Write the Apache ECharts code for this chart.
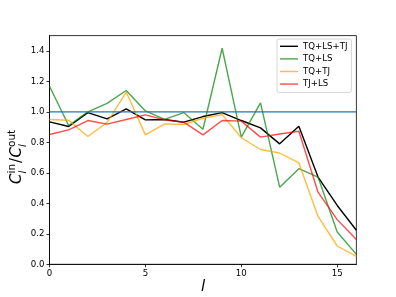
<!DOCTYPE html>
<html>
<head>
<meta charset="utf-8">
<script src="https://cdn.jsdelivr.net/npm/echarts@6/dist/echarts.min.js"></script>
<style>html,body{margin:0;padding:0;background:#fff;}#c{width:396px;height:297px;}</style>
</head>
<body>
<div id="c"></div>
<script>
const ells = [0,1,2,3,4,5,6,7,8,9,10,11,12,13,14,15,16];
const tqlstj = [0.934,0.904,0.995,0.954,1.02,0.947,0.95,0.932,0.969,0.995,0.943,0.895,0.79,0.906,0.572,0.386,0.223];
const tqls   = [1.168,0.91,1.0,1.056,1.14,1.006,0.95,0.995,0.886,1.417,0.834,1.059,0.506,0.627,0.572,0.212,0.065];
const tqtj   = [0.95,0.945,0.838,0.93,1.13,0.849,0.921,0.917,0.958,0.982,0.83,0.753,0.73,0.666,0.314,0.12,0.052];
const tjls   = [0.851,0.882,0.943,0.919,0.95,0.98,0.947,0.932,0.849,0.943,0.939,0.834,0.855,0.873,0.473,0.293,0.162];
const refX = [0,16];
const refY = [1,1];
const seriesNames = ['TQ+LS+TJ','TQ+LS','TQ+TJ','TJ+LS'];
const xTicks = [0,5,10,15];
const yTicks = [0,0.2,0.4,0.6,0.8,1.0,1.2,1.4];

const colors = ['#000000','rgba(0,128,0,0.7)','rgba(255,165,0,0.75)','rgba(255,0,0,0.7)'];
const values = [tqlstj,tqls,tqtj,tjls];
const font = 'DejaVu Sans';
const chart = echarts.init(document.getElementById('c'), null, {renderer:'canvas'});

const series = values.map((v,k)=>({
  name: seriesNames[k], type:'line', symbol:'none', showSymbol:false,
  data: ells.map((x,i)=>[x,v[i]]),
  lineStyle:{color:colors[k], width:1.4}, itemStyle:{color:colors[k]},
  animation:false, z: 2
}));
series.push({
  name:'ref', type:'line', symbol:'none', data: refX.map((x,i)=>[x,refY[i]]),
  lineStyle:{color:'#1f77b4', width:1.4}, itemStyle:{color:'#1f77b4'}, animation:false, z:3
});

const sup = '10.5px "DejaVu Sans"';
const supI = 'italic 10.5px "DejaVu Sans"';
const big = 'italic 15px "DejaVu Sans"';
chart.setOption({
  animation:false,
  grid:{left:49.5, right:39.6, top:35.6, bottom:32.7, show:true, borderColor:'#000', borderWidth:0.8, backgroundColor:'transparent'},
  xAxis:{type:'value', min:0, max:16, interval:5,
    axisLine:{show:true, lineStyle:{color:'#000', width:0.8}},
    axisTick:{show:true, length:3, lineStyle:{color:'#000', width:0.8}, customValues:xTicks},
    axisLabel:{color:'#000', fontFamily:font, fontSize:8.6, margin:5, customValues:xTicks, formatter:v=>String(v)},
    splitLine:{show:false}},
  yAxis:{type:'value', min:0, max:1.5, interval:0.2,
    axisLine:{show:true, lineStyle:{color:'#000', width:0.8}},
    axisTick:{show:true, length:3, lineStyle:{color:'#000', width:0.8}, customValues:yTicks},
    axisLabel:{color:'#000', fontFamily:font, fontSize:8.6, margin:5, customValues:yTicks, formatter:v=>v.toFixed(1)},
    splitLine:{show:false}},
  legend:{
    data: seriesNames, orient:'vertical', left:277, top:39,
    icon:'rect', itemWidth:18, itemHeight:1.4, itemGap:0,
    padding:[1,4,2,3],
    textStyle:{fontFamily:font, fontSize:8.6, color:'#000', lineHeight:12.6},
    backgroundColor:'rgba(255,255,255,0.8)', borderColor:'#cccccc', borderWidth:0.8, borderRadius:2
  },
  graphic:[
    {type:'group', x:25, y:184, rotation:Math.PI/2, children:[
      {type:'text', x:0, y:0, style:{text:'C', font:big, fill:'#000', textVerticalAlign:'bottom'}},
      {type:'text', x:10.5, y:-7, style:{text:'in', font:sup, fill:'#000', textVerticalAlign:'bottom'}},
      {type:'text', x:10.5, y:3.5, style:{text:'l', font:supI, fill:'#000', textVerticalAlign:'bottom'}},
      {type:'text', x:21, y:0, style:{text:'/', font:'15px "DejaVu Sans"', fill:'#000', textVerticalAlign:'bottom'}},
      {type:'text', x:26.5, y:0, style:{text:'C', font:big, fill:'#000', textVerticalAlign:'bottom'}},
      {type:'text', x:37, y:-7, style:{text:'out', font:sup, fill:'#000', textVerticalAlign:'bottom'}},
      {type:'text', x:37, y:3.5, style:{text:'l', font:supI, fill:'#000', textVerticalAlign:'bottom'}}
    ]},
    {type:'text', x:203, y:294.5, style:{text:'l', font:big, fill:'#000', textAlign:'center', textVerticalAlign:'bottom'}}
  ],
  series: series
});
</script>
</body>
</html>
